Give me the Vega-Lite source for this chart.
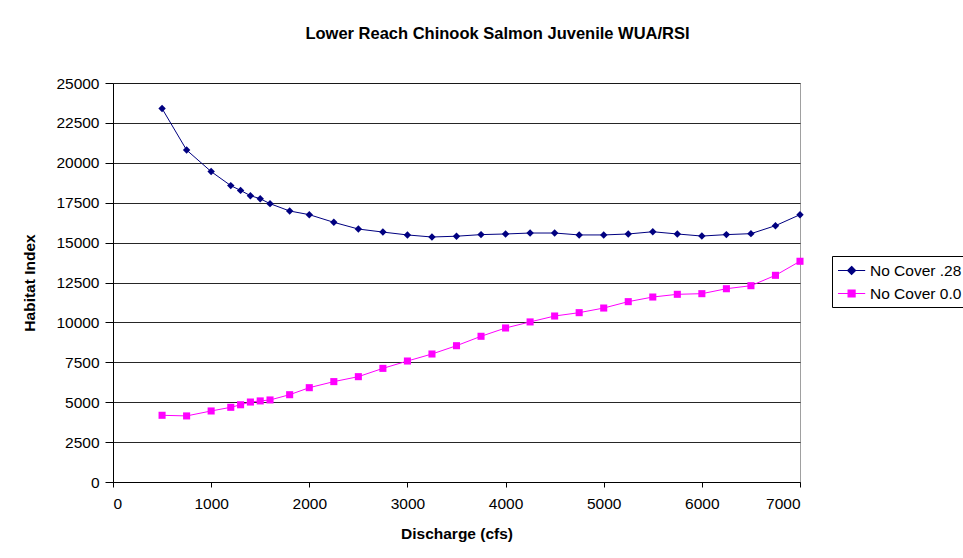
{
  "$schema": "https://vega.github.io/schema/vega-lite/v6.json",
  "width": 687,
  "height": 399,
  "autosize": {"type": "none"},
  "padding": {"left": 113, "top": 83, "right": 163, "bottom": 76},
  "background": "white",
  "title": {"text": "Lower Reach Chinook Salmon Juvenile WUA/RSI", "font": "Liberation Sans", "fontSize": 16.5, "fontWeight": "bold", "color": "#000000", "anchor": "middle", "offset": 34, "dx": 41},
  "config": {
    "view": {"stroke": "#a0a0a0", "strokeWidth": 1},
    "axis": {"labelFont": "Liberation Sans", "labelFontSize": 15.5, "labelColor": "#000000", "titleFont": "Liberation Sans", "titleFontSize": 15.5, "titleFontWeight": "bold", "titleColor": "#000000", "domainColor": "#000000", "tickColor": "#000000"}
  },
  "data": {"values": [
    {"q": 500, "s": "No Cover .28", "v": 23400}, {"q": 750, "s": "No Cover .28", "v": 20800}, {"q": 1000, "s": "No Cover .28", "v": 19450}, {"q": 1200, "s": "No Cover .28", "v": 18570}, {"q": 1300, "s": "No Cover .28", "v": 18270}, {"q": 1400, "s": "No Cover .28", "v": 17940}, {"q": 1500, "s": "No Cover .28", "v": 17750}, {"q": 1600, "s": "No Cover .28", "v": 17440}, {"q": 1800, "s": "No Cover .28", "v": 16980}, {"q": 2000, "s": "No Cover .28", "v": 16750}, {"q": 2250, "s": "No Cover .28", "v": 16270}, {"q": 2500, "s": "No Cover .28", "v": 15850}, {"q": 2750, "s": "No Cover .28", "v": 15660}, {"q": 3000, "s": "No Cover .28", "v": 15480}, {"q": 3250, "s": "No Cover .28", "v": 15350}, {"q": 3500, "s": "No Cover .28", "v": 15400}, {"q": 3750, "s": "No Cover .28", "v": 15500}, {"q": 4000, "s": "No Cover .28", "v": 15540}, {"q": 4250, "s": "No Cover .28", "v": 15600}, {"q": 4500, "s": "No Cover .28", "v": 15600}, {"q": 4750, "s": "No Cover .28", "v": 15480}, {"q": 5000, "s": "No Cover .28", "v": 15480}, {"q": 5250, "s": "No Cover .28", "v": 15540}, {"q": 5500, "s": "No Cover .28", "v": 15680}, {"q": 5750, "s": "No Cover .28", "v": 15540}, {"q": 6000, "s": "No Cover .28", "v": 15410}, {"q": 6250, "s": "No Cover .28", "v": 15500}, {"q": 6500, "s": "No Cover .28", "v": 15560}, {"q": 6750, "s": "No Cover .28", "v": 16060}, {"q": 7000, "s": "No Cover .28", "v": 16750},
    {"q": 500, "s": "No Cover 0.0", "v": 4180}, {"q": 750, "s": "No Cover 0.0", "v": 4140}, {"q": 1000, "s": "No Cover 0.0", "v": 4450}, {"q": 1200, "s": "No Cover 0.0", "v": 4680}, {"q": 1300, "s": "No Cover 0.0", "v": 4840}, {"q": 1400, "s": "No Cover 0.0", "v": 5010}, {"q": 1500, "s": "No Cover 0.0", "v": 5080}, {"q": 1600, "s": "No Cover 0.0", "v": 5140}, {"q": 1800, "s": "No Cover 0.0", "v": 5470}, {"q": 2000, "s": "No Cover 0.0", "v": 5910}, {"q": 2250, "s": "No Cover 0.0", "v": 6290}, {"q": 2500, "s": "No Cover 0.0", "v": 6600}, {"q": 2750, "s": "No Cover 0.0", "v": 7120}, {"q": 3000, "s": "No Cover 0.0", "v": 7580}, {"q": 3250, "s": "No Cover 0.0", "v": 8020}, {"q": 3500, "s": "No Cover 0.0", "v": 8540}, {"q": 3750, "s": "No Cover 0.0", "v": 9130}, {"q": 4000, "s": "No Cover 0.0", "v": 9650}, {"q": 4250, "s": "No Cover 0.0", "v": 10030}, {"q": 4500, "s": "No Cover 0.0", "v": 10400}, {"q": 4750, "s": "No Cover 0.0", "v": 10610}, {"q": 5000, "s": "No Cover 0.0", "v": 10900}, {"q": 5250, "s": "No Cover 0.0", "v": 11300}, {"q": 5500, "s": "No Cover 0.0", "v": 11590}, {"q": 5750, "s": "No Cover 0.0", "v": 11760}, {"q": 6000, "s": "No Cover 0.0", "v": 11800}, {"q": 6250, "s": "No Cover 0.0", "v": 12110}, {"q": 6500, "s": "No Cover 0.0", "v": 12300}, {"q": 6750, "s": "No Cover 0.0", "v": 12950}, {"q": 7000, "s": "No Cover 0.0", "v": 13830}
  ]},
  "encoding": {
    "x": {"field": "q", "type": "quantitative", "title": "Discharge (cfs)", "scale": {"domain": [0, 7000], "nice": false},
      "axis": {"values": [0, 1000, 2000, 3000, 4000, 5000, 6000, 7000], "format": "d", "grid": false, "tickSize": 5, "labelPadding": 9, "titlePadding": 15}},
    "y": {"field": "v", "type": "quantitative", "title": "Habitat Index", "scale": {"domain": [0, 25000], "nice": false},
      "axis": {"values": [0, 2500, 5000, 7500, 10000, 12500, 15000, 17500, 20000, 22500, 25000], "grid": true, "gridColor": "#000000", "gridOpacity": 0.85, "format": "d", "tickSize": 8, "labelPadding": 6, "titlePadding": 18}}
  },
  "layer": [
    {
      "mark": {"type": "line", "strokeWidth": 1},
      "encoding": {
        "color": {"field": "s", "type": "nominal", "scale": {"domain": ["No Cover .28", "No Cover 0.0"], "range": ["#000080", "#ff00ff"]},
          "legend": {"title": null, "orient": "none", "legendX": 719, "legendY": 173, "labelFont": "Liberation Sans", "labelFontSize": 15.5, "labelColor": "#000000", "strokeColor": "#000000", "padding": 5, "symbolSize": 289, "symbolStrokeWidth": 1.2, "rowPadding": 5, "labelOffset": 14,
            "symbolType": "M-1,0H2.2M0.6,-0.47L1.07,0L0.6,0.47L0.13,0Z",
            "encode": {"symbols": {"update": {
              "shape": {"signal": "datum.value === 'No Cover .28' ? 'M-1,0H2.2M0.6,-0.47L1.07,0L0.6,0.47L0.13,0Z' : 'M-1,0H2.2M0.19,-0.41H1.01V0.41H0.19Z'"},
              "fill": {"signal": "datum.value === 'No Cover .28' ? '#000080' : '#ff00ff'"}
            }}}}}
      }
    },
    {
      "transform": [{"filter": "datum.s === 'No Cover .28'"}],
      "mark": {"type": "point", "shape": "diamond", "filled": true, "size": 55, "opacity": 1, "color": "#000080"}
    },
    {
      "transform": [{"filter": "datum.s === 'No Cover 0.0'"}],
      "mark": {"type": "point", "shape": "square", "filled": true, "size": 50, "opacity": 1, "color": "#ff00ff"}
    }
  ]
}
